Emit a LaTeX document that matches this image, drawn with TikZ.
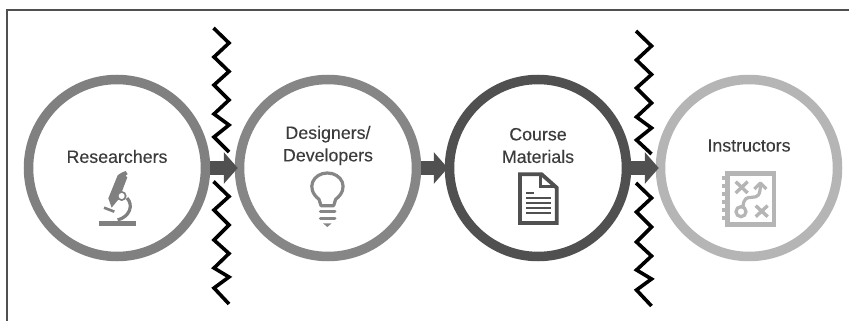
\documentclass[tikz,border=0pt]{standalone}
\usepackage{fontspec}
\setmainfont[FakeBold=0.12]{Liberation Sans}
\usetikzlibrary{arrows.meta}
\definecolor{gA}{HTML}{808080}
\definecolor{gB}{HTML}{868686}
\definecolor{gC}{HTML}{505050}
\definecolor{gD}{HTML}{B5B5B5}
\definecolor{txt}{HTML}{3C3C3C}
\tikzset{
  x=1pt,y=-1pt,
  ring/.style={circle,draw=#1,fill=white,line width=9.5pt,minimum size=177pt,inner sep=0pt},
  lab/.style={font=\fontsize{17.8}{22.5}\selectfont,text=txt,align=center,inner sep=0pt},
  blockarrow/.style={draw=gC,line width=14.5pt,shorten >=-3pt,-{Triangle[length=14pt,width=31pt]}},
  zig/.style={draw=black,line width=3.6pt},
  icon/.style={x=0.3333pt,y=-0.3333pt},
}
\begin{document}
\begin{tikzpicture}
\useasboundingbox (0,0) rectangle (849,321);
\fill[white] (0,0) rectangle (849,321);
\coordinate (fa) at (7,321);
\coordinate (fb) at (7,10);
\coordinate (fc) at (849,10);
\draw[gC,line width=1.8pt] (fa) -- (fb) -- (fc);
% zigzags
\draw[zig] (213.5,28) -- (229,43) -- (214,57) -- (229,71.5) -- (214,85) -- (229,100) -- (214,114) -- (229,125) -- (214,137) -- (229,152);
\draw[zig] (213.5,181.5) -- (229,196.5) -- (214,210) -- (229,225) -- (214,240) -- (229,253.5) -- (214,268) -- (229,277) -- (214,288) -- (229,304);
\draw[zig] (636,31) -- (651.5,46) -- (636.5,60) -- (651.5,74.5) -- (636.5,88) -- (651.5,103) -- (636.5,117) -- (651.5,128) -- (636.5,140) -- (651.5,154);
\draw[zig] (636,183) -- (651.5,198) -- (636.5,212) -- (651.5,227) -- (636.5,242) -- (651.5,256) -- (636.5,270) -- (651.5,279) -- (636.5,290) -- (651.5,306);
% circles
\node[ring=gA] (r) at (117,168) {};
\node[ring=gB] (d) at (328,168) {};
\node[ring=gC] (m) at (538,168) {};
\node[ring=gD] (i) at (749,168) {};
% arrows
\draw[blockarrow] (r.east) -- (d.west);
\draw[blockarrow] (d.east) -- (m.west);
\draw[blockarrow] (m.east) -- (i.west);
% labels
\node[lab] (lr) at (117,156.5) {Researchers};
\node[lab] (ld) at (328,145.5) {Designers/\\Developers};
\node[lab] (lm) at (538,145.5) {Course\\Materials};
\node[lab] (li) at (749,145.5) {Instructors};
% microscope
\begin{scope}[shift={(85,170)},icon]
\fill[gA] (41,152) rectangle (152,168);
\fill[gA] (108,9) -- (122,3) -- (128,12) -- (122,17) -- (127,22) -- (103,85) -- (80,113) -- (70,85) -- (98,16) -- cycle;
\draw[gA,line width=3.2pt] (126,84) .. controls (146,105) and (135,140) .. (98,150);
\fill[gA] (110,78) circle[radius=15];
\fill[white] (110,78) circle[radius=9];
\draw[gA,line width=2.6pt] (57,113) -- (88,125);
\end{scope}
% bulb
\begin{scope}[shift={(295,165)},icon]
\draw[gB,line width=3.2pt,line join=round] (78,122) -- (72,103) .. controls (30,70) and (55,24) .. (97,24) .. controls (140,24) and (165,70) .. (122,103) -- (116,122) -- cycle;
\draw[gB,line width=3pt,line cap=round] (76,140) -- (120,140);
\draw[gB,line width=3pt,line cap=round] (76,160) -- (120,160);
\fill[gB] (84,175) -- (110,175) -- (97,186) -- cycle;
\end{scope}
% document
\begin{scope}[shift={(500,165)},icon]
\draw[gC,line width=3.8pt,line join=miter] (60,28) -- (125,28) -- (170,68) -- (170,174) -- (60,174) -- cycle;
\draw[gC,line width=3.4pt] (122,28) -- (122,65) -- (170,65);
\draw[gC,line width=2.2pt] (78,83) -- (103,83);
\draw[gC,line width=2.2pt] (78,98) -- (153,98);
\draw[gC,line width=2.2pt] (78,113) -- (153,113);
\draw[gC,line width=2.2pt] (78,129) -- (153,129);
\draw[gC,line width=2.2pt] (78,145) -- (153,145);
\end{scope}
% playbook
\begin{scope}[shift={(715,165)},icon]
\draw[gD,line width=4.6pt] (37,25) rectangle (177,178);
\foreach \yy in {38,62,86,110,134,158}
  \fill[gD] (20,\yy-6) rectangle (32,\yy+6);
\draw[gD,line width=3.4pt] (62,50) -- (98,84);
\draw[gD,line width=3.4pt] (98,50) -- (62,84);
\draw[gD,line width=3.4pt] (122,122) -- (158,155);
\draw[gD,line width=3.4pt] (158,122) -- (122,155);
\draw[gD,line width=3.2pt] (78,140) circle[radius=15];
\draw[gD,line width=3.2pt,line join=round] (84,125) .. controls (86,100) and (95,97) .. (110,97) .. controls (130,97) and (136,90) .. (136,58);
\draw[gD,line width=3.2pt,line join=round] (118,72) -- (136,54) -- (154,72);
\end{scope}
\end{tikzpicture}
\end{document}
